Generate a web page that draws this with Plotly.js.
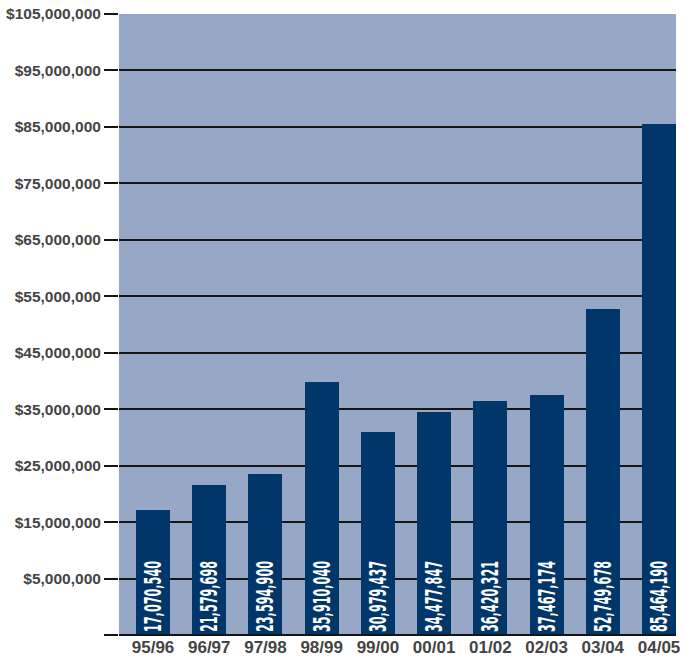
<!DOCTYPE html>
<html>
<head>
<meta charset="utf-8">
<script src="https://cdn.plot.ly/plotly-3.0.1.min.js"></script>
<style>html,body{margin:0;padding:0;background:#fff;}#chart{width:686px;height:656px;}</style>
</head>
<body>
<div id="chart"></div>
<script>
var seasons = ['95/96','96/97','97/98','98/99','99/00','00/01','01/02','02/03','03/04','04/05'];
var amounts = [17070540, 21579698, 23594900, 35910040, 30979437, 34477847, 36420321, 37467174, 52749678, 85464190];
// bar heights as drawn in the picture (the 98/99 bar is drawn taller than its label)
var barHeights = [17070540, 21579698, 23594900, 39900000, 30979437, 34477847, 36420321, 37467174, 52749678, 85464190];
var tickValues = [-5000000, 5000000, 15000000, 25000000, 35000000, 45000000, 55000000, 65000000, 75000000, 85000000, 95000000, 105000000];
var tickLabels = ['', '$5,000,000', '$15,000,000', '$25,000,000', '$35,000,000', '$45,000,000', '$55,000,000', '$65,000,000', '$75,000,000', '$85,000,000', '$95,000,000', '$105,000,000'];
var axisBottom = -5000000;

var trace = {
  type: 'bar',
  x: seasons,
  y: barHeights.map(function(v){ return v - axisBottom; }),
  base: axisBottom,
  width: 0.605,
  marker: {color: '#01366b', line: {width: 0}},
  text: amounts.map(function(v){ return v.toLocaleString('en-US'); }),
  textposition: 'inside',
  insidetextanchor: 'start',
  textangle: -90,
  textfont: {family: '"Liberation Sans Narrow", "DejaVu Sans Condensed", sans-serif', size: 23, weight: 'bold', color: '#ffffff'},
  constraintext: 'none',
  hoverinfo: 'none'
};

var layout = {
  width: 686, height: 656,
  margin: {l: 119, r: 10, t: 14, b: 21, pad: 0},
  paper_bgcolor: '#ffffff',
  plot_bgcolor: '#97a8c7',
  showlegend: false,
  bargap: 0,
  xaxis: {
    type: 'category',
    range: [-0.605, 9.302],
    showgrid: false, zeroline: false, showline: false,
    ticks: '',
    tickfont: {family: '"Liberation Sans", Arial, sans-serif', size: 17, weight: 'bold', color: '#444444'},
    fixedrange: true
  },
  yaxis: {
    range: [-5000000, 105000000],
    tickmode: 'array',
    tickvals: tickValues,
    ticktext: tickLabels,
    showgrid: true, gridcolor: '#151515', gridwidth: 2,
    zeroline: false, showline: false,
    ticks: 'outside', ticklen: 14, tickwidth: 2, tickcolor: '#151515',
    tickfont: {family: '"Liberation Sans", Arial, sans-serif', size: 15.5, weight: 'bold', color: '#444444'},
    fixedrange: true
  },
  shapes: [{
    type: 'line', xref: 'paper', yref: 'paper', x0: 0, x1: 1, y0: 0, y1: 0,
    line: {color: '#151515', width: 2}, layer: 'above'
  }]
};

Plotly.newPlot('chart', [trace], layout, {staticPlot: true}).then(function(gd){
  var targetLen = 71;
  var texts = gd.querySelectorAll('.bartext text, text.bartext');
  texts.forEach(function(t){
    var L = t.getComputedTextLength();
    if (L > targetLen) {
      var x = parseFloat(t.getAttribute('x') || '0');
      var anchor = t.getAttribute('text-anchor') || window.getComputedStyle(t).textAnchor;
      t.setAttribute('textLength', targetLen);
      t.setAttribute('lengthAdjust', 'spacingAndGlyphs');
      if (anchor === 'middle') t.setAttribute('x', x - (L - targetLen) / 2);
      else if (anchor === 'end') t.setAttribute('x', x - (L - targetLen));
    }
  });
});
</script>
</body>
</html>
